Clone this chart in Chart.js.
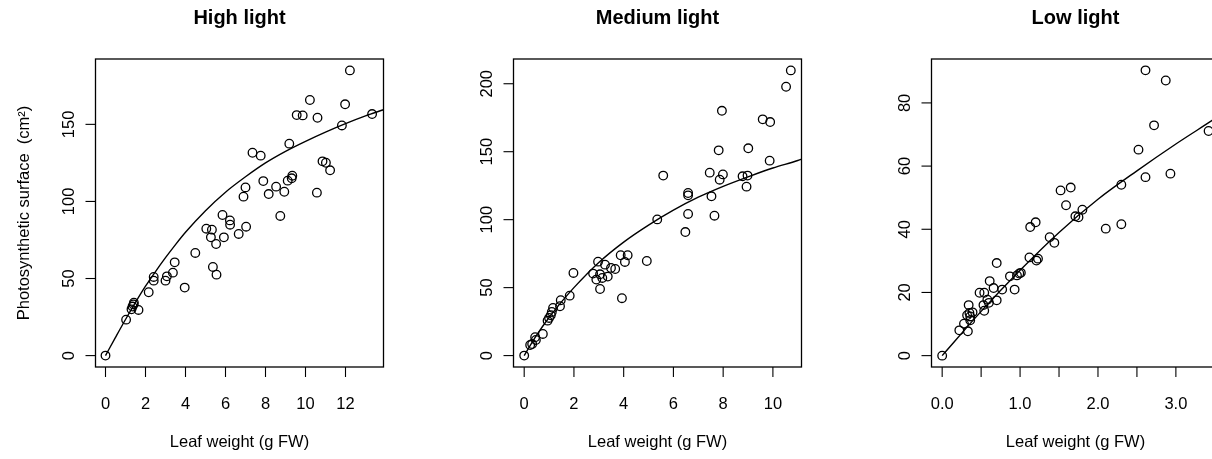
<!DOCTYPE html>
<html>
<head>
<meta charset="utf-8">
<script src="https://cdn.jsdelivr.net/npm/chart.js@4/dist/chart.umd.min.js"></script>
<style>
  html, body { margin: 0; padding: 0; background: #fff; overflow: hidden; }
  body { width: 1212px; height: 459px; position: relative; }
  canvas { position: absolute; top: 0; }
</style>
</head>
<body>
<canvas id="high" width="418" height="459" style="left:0px"></canvas>
<canvas id="medium" width="418" height="459" style="left:418px"></canvas>
<canvas id="low" width="418" height="459" style="left:836px"></canvas>
<script>
// ---- data ----
const highX = [0, 1.03, 1.3, 1.35, 1.4, 1.42, 1.65, 2.16, 2.41, 2.41, 3.0, 3.07, 3.37, 3.46, 3.96, 4.49,
    5.04, 5.32, 5.27, 5.53, 5.37, 5.55, 5.85, 6.22, 6.23, 5.92, 6.66, 7.03, 6.9, 7.0, 7.35, 7.76,
    7.89, 8.16, 8.53, 8.74, 8.94, 9.19, 9.11, 9.31, 9.34, 9.56, 9.86, 10.22, 10.6, 10.57, 10.85,
    11.02, 11.23, 11.82, 11.98, 12.22, 13.33];
const highY = [0, 23.3, 30, 31.8, 33.2, 34.3, 29.6, 41.1, 51, 48.6, 48.6, 51.4, 53.8, 60.5, 44.1, 66.6,
    82.3, 81.7, 76.7, 72.4, 57.5, 52.5, 91.2, 87.7, 84.9, 76.7, 78.9, 83.6, 103.1, 109.1, 131.6, 129.7,
    113.2, 104.8, 109.6, 90.6, 106.3, 137.5, 113.5, 115, 116.7, 156, 155.8, 165.8, 154.3, 105.7, 126,
    125.1, 120.2, 149.3, 163, 185, 156.7];
const highCurveX = [0, 0.5, 1, 1.5, 2, 2.5, 3, 3.5, 4, 5, 6, 7, 8, 9, 10, 11, 12, 13, 13.9];
const highCurveY = [0, 11.8, 23.4, 34.5, 45, 54.5, 63.5, 72, 80, 94, 106, 116, 125, 132.5, 139, 145, 150.5, 155.5, 159.5];

const mediumX = [0, 0.24, 0.32, 0.44, 0.47, 0.75, 0.94, 1.0, 1.07, 1.11, 1.16, 1.44, 1.47, 1.83, 1.98,
    2.77, 2.9, 2.97, 3.05, 3.14, 3.05, 3.25, 3.36, 3.49, 3.66, 3.88, 4.05, 4.16, 3.93, 4.93, 5.35,
    5.59, 6.48, 6.59, 6.59, 6.59, 7.46, 7.53, 7.65, 7.82, 7.95, 7.86, 7.99, 8.78, 8.98, 9.01, 8.94,
    9.59, 9.89, 9.87, 10.53, 10.72];
const mediumY = [0, 7.8, 8.5, 13.5, 11.5, 15.9, 25.7, 27.7, 29.7, 32.1, 35.0, 36.3, 40.7, 44.1, 60.8,
    60.3, 55.9, 69.1, 59.8, 57.1, 49.0, 66.9, 58.1, 64.5, 63.7, 73.8, 68.9, 73.8, 42.2, 69.6, 100.2,
    132.4, 90.9, 104.2, 117.9, 119.6, 134.6, 117.2, 102.9, 151, 180.1, 129.4, 133.3, 131.9, 132.4, 152.5, 124.3,
    173.8, 171.8, 143.4, 197.8, 209.8];
const mediumCurveX = [0, 0.5, 1, 1.5, 2, 3, 4, 5, 6, 7, 8, 9, 10, 11, 11.15];
const mediumCurveY = [0, 15, 28, 39.5, 50, 68.5, 83.5, 96, 107, 116.5, 124.5, 131.5, 138, 143.5, 144.5];

const lowX = [0, 0.22, 0.28, 0.33, 0.32, 0.35, 0.39, 0.36, 0.34, 0.36, 0.48, 0.54, 0.54, 0.53, 0.58, 0.6,
    0.61, 0.66, 0.7, 0.7, 0.77, 0.87, 0.93, 0.96, 0.99, 1.01, 1.12, 1.13, 1.2, 1.21, 1.23, 1.38, 1.44,
    1.52, 1.65, 1.59, 1.71, 1.75, 1.8, 2.1, 2.3, 2.3, 2.52, 2.61, 2.61, 2.72, 2.87, 2.93, 3.42];
const lowY = [0, 8.0, 10.1, 7.7, 12.8, 13.5, 13.7, 11.2, 16.0, 12.4, 19.9, 19.9, 14.2, 16.0, 17.7, 16.7,
    23.6, 21.4, 17.5, 29.3, 20.9, 25.1, 20.9, 25.4, 26.0, 26.2, 31.1, 40.7, 42.2, 30.1, 30.7, 37.5, 35.7,
    52.3, 53.2, 47.6, 44.1, 43.8, 46.2, 40.2, 41.6, 54.1, 65.2, 56.5, 90.3, 72.9, 87.1, 57.6, 71.1];
const lowCurveX = [0, 0.5, 1, 1.5, 2, 2.5, 3, 3.5, 3.56];
const lowCurveY = [0, 14, 27, 39, 49.5, 58.5, 67, 75, 76];

const titles = ["High light", "Medium light", "Low light"];
const xTitle = "Leaf weight (g FW)";
const yTitle = "Photosynthetic surface  (cm\u00B2)";
const highXTicks = [0, 2, 4, 6, 8, 10, 12];
const highXLabels = ["0", "2", "4", "6", "8", "10", "12"];
const highYTicks = [0, 50, 100, 150];
const mediumXTicks = [0, 2, 4, 6, 8, 10];
const mediumXLabels = ["0", "2", "4", "6", "8", "10"];
const mediumYTicks = [0, 50, 100, 150, 200];
const lowXTicks = [0, 0.5, 1, 1.5, 2, 2.5, 3, 3.5];
const lowXLabels = ["0.0", "", "1.0", "", "2.0", "", "3.0", ""];
const lowYTicks = [0, 20, 40, 60, 80];

const fontFamily = '"Liberation Sans", Arial, Helvetica, sans-serif';

function toPoints(xs, ys) {
    return xs.map((x, i) => ({ x: x, y: ys[i] }));
}

// box, ticks and labels drawn the way R's base graphics does it
const rAxesPlugin = {
    id: "rAxes",
    afterDraw(chart, args, opts) {
        const { ctx, chartArea } = chart;
        const xs = chart.scales.x;
        const ys = chart.scales.y;
        const tick = 10;

        ctx.save();
        ctx.strokeStyle = "#000";
        ctx.fillStyle = "#000";
        ctx.lineWidth = 1.3;
        ctx.strokeRect(chartArea.left, chartArea.top,
            chartArea.right - chartArea.left, chartArea.bottom - chartArea.top);

        ctx.lineWidth = 1.1;
        ctx.font = "16.5px " + fontFamily;
        ctx.textAlign = "center";
        ctx.textBaseline = "alphabetic";

        // x axis
        opts.xTicks.forEach((v, i) => {
            const px = xs.getPixelForValue(v);
            ctx.beginPath();
            ctx.moveTo(px, chartArea.bottom);
            ctx.lineTo(px, chartArea.bottom + tick);
            ctx.stroke();
            if (opts.xLabels[i]) ctx.fillText(opts.xLabels[i], px, chartArea.bottom + 41.5);
        });

        // y axis, labels turned like R's las = 0
        opts.yTicks.forEach(v => {
            const py = ys.getPixelForValue(v);
            ctx.beginPath();
            ctx.moveTo(chartArea.left - tick, py);
            ctx.lineTo(chartArea.left, py);
            ctx.stroke();
            ctx.save();
            ctx.translate(chartArea.left - 22, py);
            ctx.rotate(-Math.PI / 2);
            ctx.fillText(String(v), 0, 0);
            ctx.restore();
        });

        const midX = (chartArea.left + chartArea.right) / 2;
        const midY = (chartArea.top + chartArea.bottom) / 2;
        ctx.fillText(xTitle, midX, chartArea.bottom + 80);

        if (opts.yTitle) {
            ctx.save();
            ctx.translate(chartArea.left - 67, midY);
            ctx.rotate(-Math.PI / 2);
            ctx.fillText(opts.yTitle, 0, 0);
            ctx.restore();
        }

        ctx.font = "bold 20px " + fontFamily;
        ctx.fillText(opts.title, midX, 24);
        ctx.restore();
    }
};

function makePanel(id, px, py, cx, cy, xMin, xMax, yMin, yMax, axes) {
    return new Chart(document.getElementById(id), {
        type: "scatter",
        data: {
            datasets: [
                {
                    data: toPoints(px, py),
                    pointRadius: 4.3,
                    pointHoverRadius: 4.3,
                    pointBorderWidth: 1.3,
                    borderColor: "#000",
                    backgroundColor: "rgba(0,0,0,0)",
                    clip: 6
                },
                {
                    data: toPoints(cx, cy),
                    showLine: true,
                    pointRadius: 0,
                    borderColor: "#000",
                    borderWidth: 1.4,
                    cubicInterpolationMode: "monotone",
                    fill: false
                }
            ]
        },
        options: {
            responsive: false,
            animation: false,
            events: [],
            layout: { padding: { left: 95.5, right: 34.5, top: 59, bottom: 92 } },
            scales: {
                x: { type: "linear", min: xMin, max: xMax, display: false },
                y: { type: "linear", min: yMin, max: yMax, display: false }
            },
            plugins: {
                legend: { display: false },
                tooltip: { enabled: false },
                rAxes: axes
            }
        },
        plugins: [rAxesPlugin]
    });
}

makePanel("high", highX, highY, highCurveX, highCurveY, -0.5, 13.9, -7.4, 192.4,
    { title: titles[0], xTicks: highXTicks, xLabels: highXLabels, yTicks: highYTicks, yTitle: yTitle });
makePanel("medium", mediumX, mediumY, mediumCurveX, mediumCurveY, -0.43, 11.15, -8.4, 218.2,
    { title: titles[1], xTicks: mediumXTicks, xLabels: mediumXLabels, yTicks: mediumYTicks, yTitle: null });
makePanel("low", lowX, lowY, lowCurveX, lowCurveY, -0.137, 3.56, -3.6, 93.9,
    { title: titles[2], xTicks: lowXTicks, xLabels: lowXLabels, yTicks: lowYTicks, yTitle: null });
</script>
</body>
</html>
